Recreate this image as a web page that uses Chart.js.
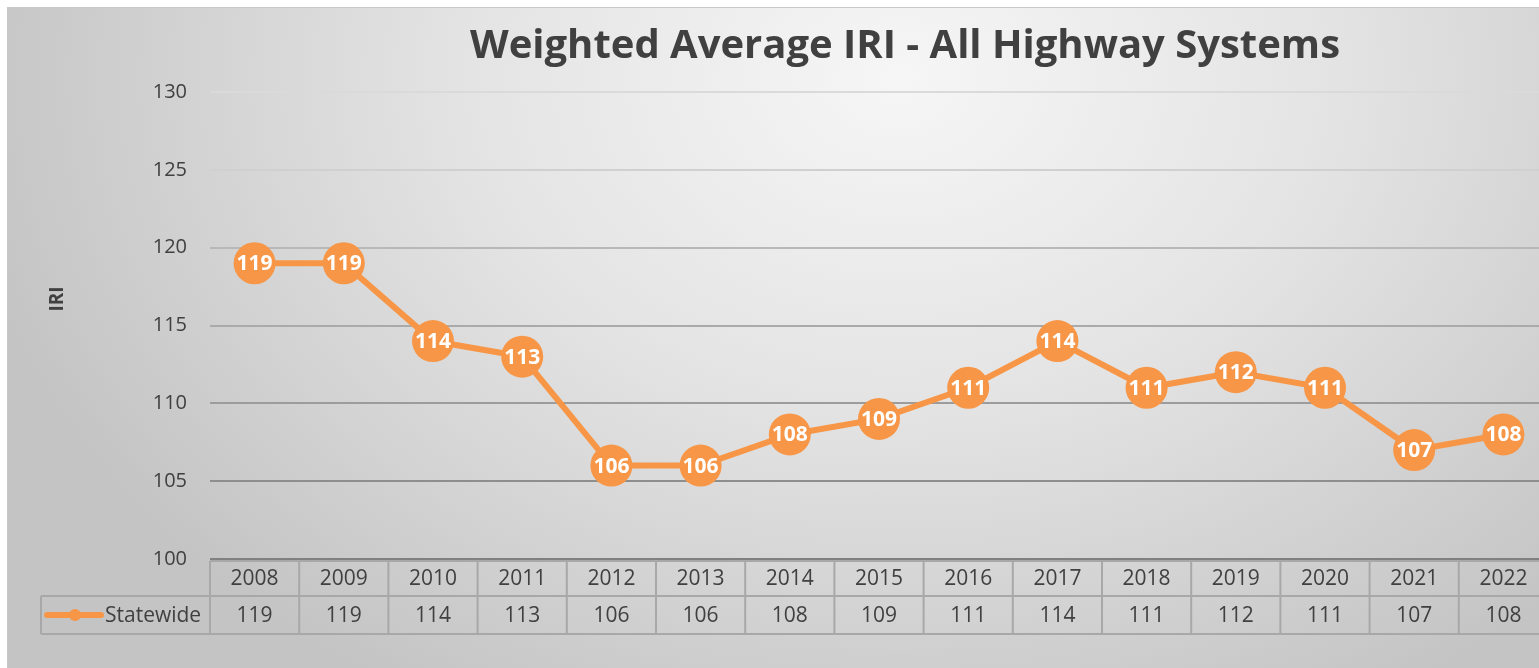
<!DOCTYPE html>
<html>
<head>
<meta charset="utf-8">
<script src="https://cdn.jsdelivr.net/npm/chart.js@4.4.1/dist/chart.umd.min.js"></script>
<style>
    html, body { margin: 0; padding: 0; background: #fff; overflow: hidden; width: 1539px; height: 668px; }
    #box {
        position: absolute; left: 7px; top: 7px; width: 1540px; height: 661px;
        border-top: 1px solid #c8c8c8; border-left: 1px solid #c8c8c8;
        background: radial-gradient(ellipse 950px 720px at 890px 70px, #f6f6f6 0%, #e4e4e4 45%, #c4c4c4 100%);
    }
    canvas { position: absolute; left: 0; top: 0; }
</style>
</head>
<body>
<div id="box"><canvas id="iriChart" width="1540" height="661"></canvas></div>
<script>
const CHART_TITLE = 'Weighted Average IRI - All Highway Systems';
const Y_TITLE = 'IRI';
const SERIES_NAME = 'Statewide';
const years = ['2008', '2009', '2010', '2011', '2012', '2013', '2014', '2015', '2016', '2017', '2018', '2019', '2020', '2021', '2022'];
const iriValues = [119, 119, 114, 113, 106, 106, 108, 109, 111, 114, 111, 112, 111, 107, 108];
const yMin = 100;
const yMax = 130;
const yStep = 5;

const ORANGE = '#F79646';
const TEXT = '#404040';
const FONT = '"Open Sans", "DejaVu Sans", sans-serif';

// gridlines get lighter toward the top, like the original
const gridColors = ['#808080', '#8e8e8e', '#9c9c9c', '#aaaaaa', '#b8b8b8', '#d0d0d0', '#dadada'];

const titlePlugin = {
    id: 'titles',
    afterDraw(chart) {
        const ctx = chart.ctx;
        ctx.save();
        ctx.fillStyle = TEXT;
        ctx.font = `bold 40px ${FONT}`;
        ctx.textAlign = 'center';
        ctx.textBaseline = 'alphabetic';
        ctx.fillText(CHART_TITLE, 897, 50);

        ctx.translate(50, 291);
        ctx.rotate(-Math.PI / 2);
        ctx.font = `bold 19px ${FONT}`;
        ctx.textBaseline = 'middle';
        ctx.fillText(Y_TITLE, 0, 0);
        ctx.restore();
    }
};

const labelPlugin = {
    id: 'pointLabels',
    afterDatasetsDraw(chart) {
        const ctx = chart.ctx;
        const meta = chart.getDatasetMeta(0);
        ctx.save();
        ctx.fillStyle = '#ffffff';
        ctx.font = `bold 21px ${FONT}`;
        ctx.textAlign = 'center';
        ctx.textBaseline = 'middle';
        meta.data.forEach((pt, i) => {
            ctx.fillText(String(iriValues[i]), pt.x, pt.y + 1);
        });
        ctx.restore();
    }
};

// Excel-style data table under the plot
const tablePlugin = {
    id: 'dataTable',
    afterDraw(chart) {
        const ctx = chart.ctx;
        const x = chart.scales.x;
        const area = chart.chartArea;
        const colW = x.getPixelForValue(1) - x.getPixelForValue(0);
        const top = area.bottom + 2;
        const mid = top + 35;
        const bottom = mid + 38;
        const legendLeft = 33;
        const first = x.getPixelForValue(0) - colW / 2;
        const last = x.getPixelForValue(years.length - 1) + colW / 2;

        ctx.save();
        ctx.strokeStyle = '#a8a8a8';
        ctx.lineWidth = 2;
        ctx.beginPath();
        ctx.moveTo(first, top); ctx.lineTo(last, top);
        ctx.moveTo(legendLeft, mid); ctx.lineTo(last, mid);
        ctx.moveTo(legendLeft, bottom); ctx.lineTo(last, bottom);
        ctx.moveTo(legendLeft, mid); ctx.lineTo(legendLeft, bottom);
        for (let i = 0; i <= years.length; i++) {
            const bx = first + i * colW;
            ctx.moveTo(bx, top); ctx.lineTo(bx, bottom);
        }
        ctx.stroke();

        ctx.fillStyle = TEXT;
        ctx.font = `21px ${FONT}`;
        ctx.textAlign = 'center';
        ctx.textBaseline = 'middle';
        years.forEach((yr, i) => {
            const cx = x.getPixelForValue(i);
            ctx.fillText(yr, cx, (top + mid) / 2 + 1);
            ctx.fillText(String(iriValues[i]), cx, (mid + bottom) / 2 + 1);
        });

        // legend key
        const ly = (mid + bottom) / 2;
        ctx.strokeStyle = ORANGE;
        ctx.lineWidth = 6;
        ctx.lineCap = 'round';
        ctx.beginPath();
        ctx.moveTo(legendLeft + 6, ly); ctx.lineTo(legendLeft + 60, ly);
        ctx.stroke();
        ctx.fillStyle = ORANGE;
        ctx.beginPath();
        ctx.arc(legendLeft + 34, ly, 6, 0, Math.PI * 2);
        ctx.fill();
        ctx.fillStyle = TEXT;
        ctx.textAlign = 'left';
        ctx.fillText(SERIES_NAME, legendLeft + 64, ly + 1);
        ctx.restore();
    }
};

new Chart(document.getElementById('iriChart'), {
    type: 'line',
    data: {
        labels: years,
        datasets: [{
            label: SERIES_NAME,
            data: iriValues,
            borderColor: ORANGE,
            backgroundColor: ORANGE,
            borderWidth: 6,
            pointRadius: 21,
            pointHoverRadius: 21,
            pointBorderWidth: 0,
            pointBackgroundColor: ORANGE,
            tension: 0
        }]
    },
    options: {
        responsive: false,
        animation: false,
        layout: { autoPadding: false, padding: { top: 84, bottom: 110, left: 0, right: 0 } },
        plugins: {
            legend: { display: false },
            title: { display: false },
            tooltip: { enabled: false }
        },
        scales: {
            x: {
                display: false,
                offset: true
            },
            y: {
                min: yMin,
                max: yMax,
                afterFit(scale) { scale.width = 202; },
                border: { display: false },
                grid: {
                    drawTicks: false,
                    lineWidth: 2,
                    color: (c) => gridColors[c.index] || '#bbbbbb'
                },
                ticks: {
                    stepSize: yStep,
                    padding: 23,
                    color: TEXT,
                    font: { family: FONT, size: 20 }
                }
            }
        }
    },
    plugins: [titlePlugin, labelPlugin, tablePlugin]
});
</script>
</body>
</html>
